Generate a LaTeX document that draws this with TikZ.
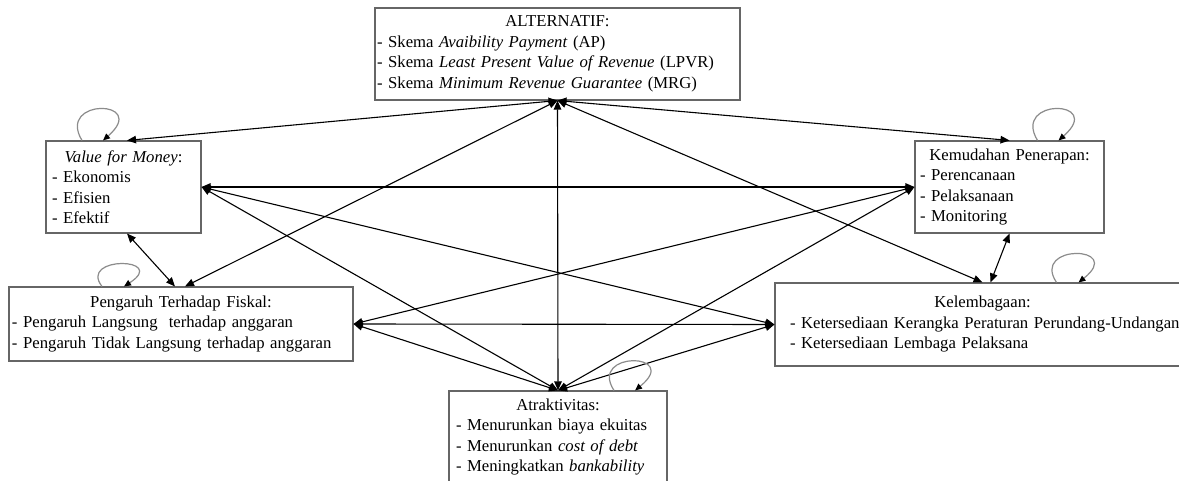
\documentclass[tikz,border=0pt]{standalone}
\usepackage{fontspec}
\setmainfont{Liberation Serif}
\usetikzlibrary{arrows.meta,calc}
\begin{document}
\begin{tikzpicture}[x=1pt,y=-1pt,
  box/.style={draw=black!60, line width=1.1pt, rectangle, align=left,
    font=\fontsize{16.7}{20.5}\selectfont, inner ysep=0pt, anchor=center},
  link/.style={line width=1.1pt, {Triangle[length=9pt,width=7.5pt]}-{Triangle[length=9pt,width=7.5pt]}},
  selfloop/.style={draw=black!45, line width=1.2pt, -{Triangle[length=7pt,width=6pt,color=black]}}]
\useasboundingbox (0,0) rectangle (1179,481);
\clip (0,0) rectangle (1179,481);
\fill[white] (0,0) rectangle (1179,481);

\node[box, inner xsep=2pt, text width=361pt, minimum height=92pt] (alt) at (557.5,54)
 {\makebox[\linewidth]{ALTERNATIF:}\\
  \mbox{- Skema \textit{Avaibility Payment} (AP)}\\
  \mbox{- Skema \textit{Least Present Value of Revenue} (LPVR)}\\
  \mbox{- Skema \textit{Minimum Revenue Guarantee} (MRG)}};

\node[box, inner xsep=6pt, text width=143pt, minimum height=92pt] (vfm) at (123.5,187)
 {\makebox[\linewidth]{\textit{Value for Money}:}\\
  \mbox{- Ekonomis}\\ \mbox{- Efisien}\\ \mbox{- Efektif}};

\node[box, inner xsep=5pt, text width=179pt, minimum height=92pt] (kem) at (1009.5,187)
 {\makebox[\linewidth]{Kemudahan Penerapan:}\\
  \mbox{- Perencanaan}\\ \mbox{- Pelaksanaan}\\ \mbox{- Monitoring}};

\node[box, inner xsep=3pt, text width=338pt, minimum height=74pt] (fis) at (181,324)
 {\makebox[\linewidth]{Pengaruh Terhadap Fiskal:}\\
  \mbox{- Pengaruh Langsung~ terhadap anggaran}\\
  \mbox{- Pengaruh Tidak Langsung terhadap anggaran}};

\node[box, inner xsep=15pt, text width=385pt, minimum height=83pt] (kel) at (982.5,324.5)
 {\makebox[\linewidth]{Kelembagaan:}\\
  \mbox{- Ketersediaan Kerangka Peraturan Perundang-Undangan}\\
  \mbox{- Ketersediaan Lembaga Pelaksana}};

\node[box, inner xsep=7pt, text width=204pt, minimum height=92pt] (atr) at (558,437)
 {\makebox[\linewidth]{Atraktivitas:}\\
  \mbox{- Menurunkan biaya ekuitas}\\
  \mbox{- Menurunkan \textit{cost of debt}}\\
  \mbox{- Meningkatkan \textit{bankability}}};

% connectors
\draw[link] (alt.south) -- ([xshift=3.5pt]vfm.north);
\draw[link] (alt.south) -- (kem.north);
\draw[link] (alt.south) -- ([xshift=4pt]fis.north);
\draw[link] (alt.south) -- (kel.north);
\draw[link] (alt.south) -- (atr.north);
\draw[link] (vfm.east) -- (kem.west);
\draw[link] ([xshift=3.5pt]vfm.south) -- ([xshift=-6pt]fis.north);
\draw[link] (vfm.east) -- (kel.west);
\draw[link] (vfm.east) -- (atr.north);
\draw[link] (kem.west) -- (fis.east);
\draw[link] (kem.south) -- ([xshift=8pt]kel.north);
\draw[link] (kem.west) -- (atr.north);
\draw[link] (fis.east) -- (kel.west);
\draw[link] (fis.east) -- (atr.north);
\draw[link] (kel.west) -- (atr.north);

% self loops
\draw[selfloop] ([xshift=-41.5pt]vfm.north) .. controls +(-26,-43) and +(47,-41) .. ([xshift=-20.5pt]vfm.north);
\draw[selfloop] ([xshift=28pt]kem.north) .. controls +(-26,-43) and +(47,-41) .. ([xshift=49pt]kem.north);
\draw[selfloop] ([xshift=-79pt]fis.north) .. controls +(-24,-31) and +(45,-29) .. ([xshift=-57pt]fis.north);
\draw[selfloop] ([xshift=74pt]kel.north) .. controls +(-26,-39) and +(47,-37) .. ([xshift=96pt]kel.north);
\draw[selfloop] ([xshift=56pt]atr.north) .. controls +(-26,-40) and +(47,-38) .. ([xshift=77pt]atr.north);
\end{tikzpicture}
\end{document}
